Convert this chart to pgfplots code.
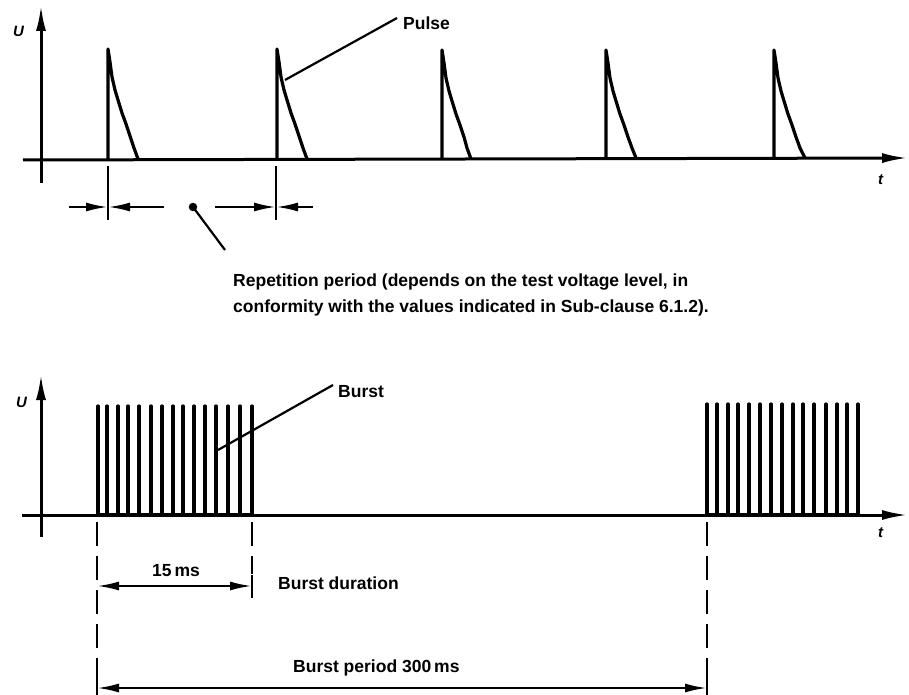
\documentclass[border=0pt]{standalone}
\usepackage{fontspec}
\setmainfont{Liberation Sans}
\usepackage{pgfplots}
\pgfplotsset{compat=1.18}
\usetikzlibrary{arrows.meta}

% line and tip styles
\tikzset{
  wave/.style={black, solid, line width=3.2pt, line join=round, mark=none},
  thin line/.style={black, solid, line width=2.2pt, mark=none},
  axarrow/.style={black, line width=3pt, mark=none, -{Latex[length=26pt,width=10pt]}},
  dimarrow/.style={black, line width=2.3pt, mark=none, -{Latex[length=22pt,width=9pt]}},
  dimboth/.style={black, line width=2.3pt, mark=none,
    {Latex[length=22pt,width=9pt]}-{Latex[length=22pt,width=9pt]}},
  dashline/.style={black, line width=2.4pt, mark=none, dash pattern=on 24pt off 10pt},
  lbl/.style={font=\bfseries\fontsize{17.5}{26}\selectfont, inner sep=0pt},
  var/.style={font=\bfseries\itshape\fontsize{15}{18}\selectfont, inner sep=0pt},
}

\begin{document}
\begin{tikzpicture}
\begin{axis}[
    at={(0,0)}, anchor=south west,
    scale only axis,
    width=909pt, height=695pt,
    xmin=0, xmax=909, ymin=0, ymax=695,
    y dir=reverse,
    hide axis,
    clip=false,
  ]
  % ---- upper diagram: single pulses ----
  \addplot[axarrow] coordinates {(41,183) (41,5)};
  \addplot[axarrow] coordinates {(23,160) (908,158)};

  \addplot[wave] coordinates {(108,159) (108,49) (110,62) (112,77) (115,90) (118,100)
    (122,113) (126,124) (130,136) (134,148) (138,159)};
  \addplot[wave] coordinates {(277,159) (277,49) (279,62) (281,77) (284,90) (287,100)
    (291,113) (295,124) (299,136) (303,148) (307,159)};
  \addplot[wave] coordinates {(442,159) (442,50) (444,63) (446,78) (449,91) (452,101)
    (456,114) (460,125) (464,137) (467,148) (471,159)};
  \addplot[wave] coordinates {(606,159) (606,50) (608,63) (610,78) (613,91) (616,101)
    (620,114) (624,125) (628,137) (632,148) (636,158)};
  \addplot[wave] coordinates {(774,158) (774,50) (776,63) (778,78) (781,91) (784,101)
    (788,114) (792,125) (796,137) (800,148) (805,158)};

  % pulse leader
  \addplot[thin line] coordinates {(285,80) (397,18)};

  % repetition period marks
  \addplot[thin line] coordinates {(108,166) (108,220)};
  \addplot[thin line] coordinates {(276,166) (276,220)};
  \addplot[dimarrow] coordinates {(69,207) (108,207)};
  \addplot[dimarrow] coordinates {(164,207) (108,207)};
  \addplot[dimarrow] coordinates {(215,207) (276,207)};
  \addplot[dimarrow] coordinates {(313,207) (276,207)};
  \addplot[thin line] coordinates {(193,207) (225,250)};
  \addplot[black, only marks, mark=*, mark size=4pt] coordinates {(193,207)};

  \node[var, anchor=base west] at (axis cs:13,37) {U};
  \node[var, anchor=base west] at (axis cs:878,185) {t};
  \node[lbl, anchor=base west] at (axis cs:403,30) {Pulse};
  \node[lbl, anchor=base west] at (axis cs:233,286)
    {Repetition period (depends on the test voltage level, in};
  \node[lbl, anchor=base west] at (axis cs:233,312)
    {conformity with the values indicated in Sub-clause 6.1.2).};

  % ---- lower diagram: bursts ----
  \addplot[axarrow] coordinates {(41,537) (41,374)};
  \addplot[axarrow] coordinates {(22,515) (908,515)};

  \addplot[wave] coordinates {
    (98,515) (98,406) (98,515) (107,515) (107,406) (107,515)
    (118,515) (118,406) (118,515) (128,515) (128,406) (128,515)
    (139,515) (139,406) (139,515) (151,515) (151,406) (151,515)
    (162,515) (162,406) (162,515) (173,515) (173,406) (173,515)
    (183,515) (183,406) (183,515) (194,515) (194,406) (194,515)
    (205,515) (205,406) (205,515) (216,515) (216,406) (216,515)
    (228,515) (228,406) (228,515) (240,515) (240,406) (240,515)
    (252,515) (252,406) (252,515)};
  \addplot[wave] coordinates {
    (707,515) (707,404) (707,515) (717,515) (717,404) (717,515)
    (728,515) (728,404) (728,515) (738,515) (738,404) (738,515)
    (749,515) (749,404) (749,515) (760,515) (760,404) (760,515)
    (771,515) (771,404) (771,515) (782,515) (782,404) (782,515)
    (793,515) (793,404) (793,515) (803,515) (803,404) (803,515)
    (814,515) (814,404) (814,515) (826,515) (826,404) (826,515)
    (837,515) (837,404) (837,515) (847,515) (847,404) (847,515)
    (858,515) (858,404) (858,515)};

  % burst leader
  \addplot[thin line] coordinates {(218,450) (333,385)};

  % dashed extension lines
  \addplot[dashline] coordinates {(97,522) (97,694)};
  \addplot[dashline] coordinates {(252,522) (252,574)};
  \addplot[dashline] coordinates {(707,522) (707,694)};
  \addplot[thin line] coordinates {(252,575) (252,598)};
  \addplot[thin line] coordinates {(707,676) (707,695)};
  \addplot[thin line] coordinates {(97,676) (97,695)};

  % dimension arrows
  \addplot[dimboth] coordinates {(97,586) (252,586)};
  \addplot[dimboth] coordinates {(97,688) (707,688)};

  \node[var, anchor=base west] at (axis cs:16,407) {U};
  \node[var, anchor=base west] at (axis cs:878,537) {t};
  \node[lbl, anchor=base west] at (axis cs:338,397) {Burst};
  \node[lbl, anchor=base west] at (axis cs:152,576) {15\,ms};
  \node[lbl, anchor=base west] at (axis cs:278,589) {Burst duration};
  \node[lbl, anchor=base west] at (axis cs:293,672) {Burst period 300\,ms};
\end{axis}
\pgfresetboundingbox
\useasboundingbox (0,0) rectangle (909pt,695pt);
\end{tikzpicture}
\end{document}
